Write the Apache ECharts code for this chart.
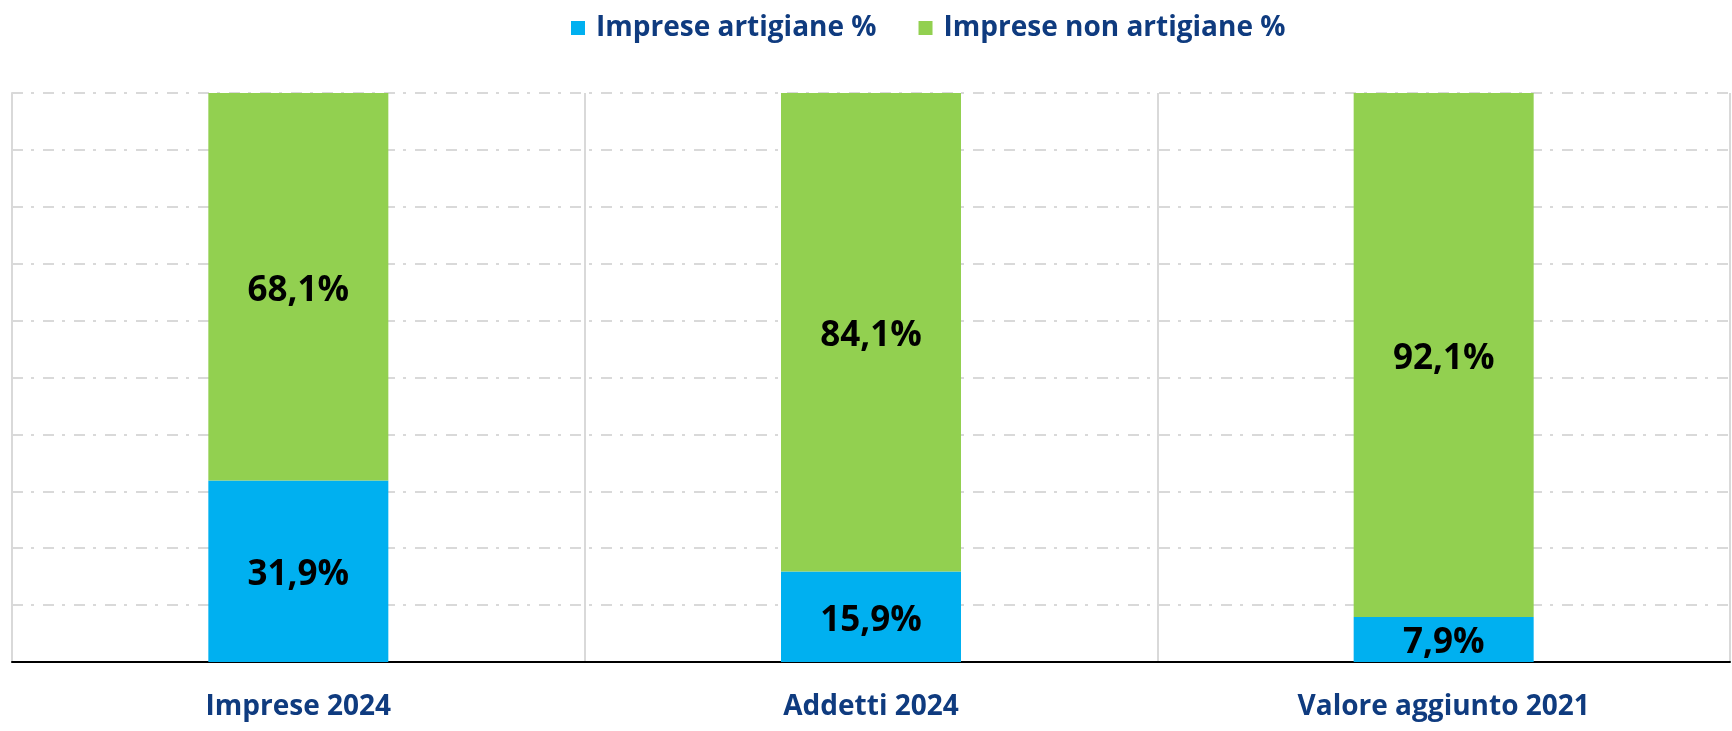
<!DOCTYPE html>
<html>
<head>
<meta charset="utf-8">
<script src="https://cdn.jsdelivr.net/npm/echarts@6/dist/echarts.min.js"></script>
<style>
  html, body { margin: 0; padding: 0; background: #fff; }
  #main { width: 1732px; height: 731px; }
</style>
</head>
<body>
<div id="main"></div>
<script>
// categorie e valori (%)
const categories = ['Imprese 2024', 'Addetti 2024', 'Valore aggiunto 2021']
const artigiane = [31.9, 15.9, 7.9]
const nonArtigiane = [68.1, 84.1, 92.1]

const blue = '#00b0f0'
const green = '#92d050'
const navy = '#0f3b7f'
const font = '"Open Sans", sans-serif'

const fmt = (p) => p.value.toFixed(1).replace('.', ',') + '%'

const myChart = echarts.init(document.getElementById('main'))
myChart.setOption({
  animation: false,
  legend: {
    top: 9,
    left: 566,
    itemWidth: 14,
    itemHeight: 14,
    itemGap: 42,
    icon: 'rect',
    textStyle: {
      color: navy,
      fontFamily: font,
      fontWeight: 'bold',
      fontSize: 28,
      padding: [0, 0, 0, 6]
    },
    data: ['Imprese artigiane %', 'Imprese non artigiane %']
  },
  grid: {
    left: 12,
    right: 2,
    top: 93,
    bottom: 69,
    containLabel: false
  },
  xAxis: {
    type: 'category',
    data: categories,
    axisTick: { show: false },
    axisLine: {
      lineStyle: { color: '#000', width: 2 }
    },
    axisLabel: {
      color: navy,
      fontFamily: font,
      fontWeight: 'bold',
      fontSize: 28,
      margin: 31
    },
    splitLine: {
      show: true,
      lineStyle: { color: '#d9d9d9', width: 2 }
    }
  },
  yAxis: {
    type: 'value',
    min: 0,
    max: 100,
    interval: 10,
    axisLabel: { show: false },
    axisTick: { show: false },
    axisLine: {
      show: true,
      lineStyle: { color: '#d9d9d9', width: 2 }
    },
    splitLine: {
      show: true,
      lineStyle: { color: '#d9d9d9', width: 2, type: [11, 8, 3, 9] }
    }
  },
  series: [
    {
      name: 'Imprese artigiane %',
      type: 'bar',
      stack: 'tot',
      barWidth: 180,
      itemStyle: { color: blue },
      label: {
        show: true,
        position: 'inside',
        offset: [0, 4],
        formatter: fmt,
        color: '#000',
        fontFamily: font,
        fontWeight: 'bold',
        fontSize: 35
      },
      data: artigiane
    },
    {
      name: 'Imprese non artigiane %',
      type: 'bar',
      stack: 'tot',
      barWidth: 180,
      itemStyle: { color: green },
      label: {
        show: true,
        position: 'inside',
        offset: [0, 4],
        formatter: fmt,
        color: '#000',
        fontFamily: font,
        fontWeight: 'bold',
        fontSize: 35
      },
      data: nonArtigiane
    }
  ]
})
</script>
</body>
</html>
